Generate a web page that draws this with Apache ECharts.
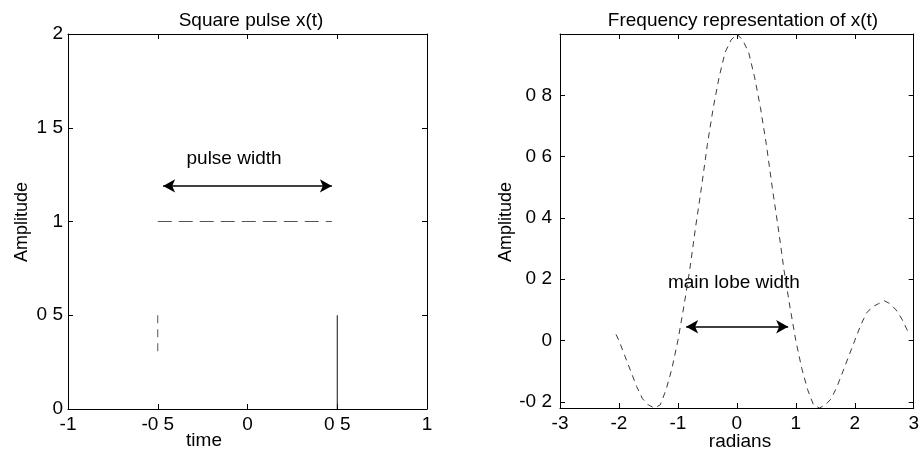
<!DOCTYPE html>
<html>
<head>
<meta charset="utf-8">
<script src="https://cdn.jsdelivr.net/npm/echarts@6/dist/echarts.min.js"></script>
<style>
html, body { margin: 0; background: #fff; }
#chart { width: 922px; height: 456px; }
</style>
</head>
<body>
<div id="chart"></div>
<script>
// left panel: square pulse (visible pieces of the scanned trace)
const pulseTop = [[-0.5, 1], [0.47, 1]]
const pulseLeftEdge = [[-0.5, 0.5], [-0.5, 0.28]]
const pulseRightEdge = [[0.5, 0.5], [0.5, 0]]
const pulseArrow = [[-0.47, 1.19], [0.47, 1.19]]
const pulseNote = [-0.075, 1.333]

// right panel: spectrum
const freqX = [-2.05, -2.0, -1.9, -1.8, -1.7, -1.6, -1.5, -1.4, -1.3, -1.2, -1.1,
  -1.0, -0.9, -0.8, -0.7, -0.6, -0.5, -0.4, -0.3, -0.2, -0.1, 0,
  0.1, 0.2, 0.3, 0.4, 0.5, 0.6, 0.7, 0.8, 0.9, 1.0,
  1.1, 1.2, 1.3, 1.4, 1.5, 1.6, 1.7, 1.8, 1.9, 2.0,
  2.1, 2.2, 2.3, 2.4, 2.5, 2.6, 2.7, 2.8, 2.9]
const freqY = [0.02, 0.0, -0.05, -0.10, -0.15, -0.19, -0.21, -0.22, -0.21, -0.16, -0.09,
  0.0, 0.11, 0.23, 0.37, 0.50, 0.64, 0.76, 0.86, 0.94, 0.98, 1.0,
  0.98, 0.94, 0.86, 0.76, 0.64, 0.50, 0.37, 0.23, 0.11, 0.0,
  -0.09, -0.16, -0.21, -0.22, -0.21, -0.19, -0.15, -0.10, -0.05, 0.0,
  0.05, 0.09, 0.11, 0.12, 0.13, 0.12, 0.10, 0.07, 0.03]
const lobeArrow = [[-0.86, 0.045], [0.87, 0.045]]
const lobeNote = [-0.05, 0.19]

const timeTicks = [-1, 1, 0.5]        // min, max, step
const ampTicks = [0, 2, 0.5]
const radTicks = [-3, 3, 1]
const specRange = [-0.22, 1]
const specTicks = [-0.2, 0, 0.2, 0.4, 0.6, 0.8]

const FONT = "'Liberation Sans', Arial, sans-serif"
const FS = 19

const chart = echarts.init(document.getElementById('chart'))

const fmt = v => String(Math.round(v * 10) / 10).replace('.', ' ')

function axisBase(extra) {
  return Object.assign({
    type: 'value',
    axisLine: { show: true, onZero: false, lineStyle: { color: '#000', width: 1 } },
    axisTick: { show: true, inside: true, length: 5, lineStyle: { color: '#000' } },
    splitLine: { show: false },
    axisLabel: { color: '#000', fontSize: FS, fontFamily: FONT, formatter: fmt }
  }, extra)
}
function mirror(ax, pos) {
  const m = JSON.parse(JSON.stringify(ax))
  m.position = pos
  m.axisLabel = { show: false }
  return m
}

const xTime = axisBase({ gridIndex: 0, min: timeTicks[0], max: timeTicks[1], interval: timeTicks[2], position: 'bottom' })
xTime.axisLabel.margin = 6
const yAmp = axisBase({ gridIndex: 0, min: ampTicks[0], max: ampTicks[1], interval: ampTicks[2], position: 'left' })
yAmp.axisLabel.margin = 5
const xRad = axisBase({ gridIndex: 1, min: radTicks[0], max: radTicks[1], interval: radTicks[2], position: 'bottom' })
xRad.axisLabel.margin = 6
const ySpec = axisBase({ gridIndex: 1, min: specRange[0], max: specRange[1], position: 'left' })
ySpec.axisTick.customValues = specTicks
ySpec.axisLabel.customValues = specTicks
ySpec.axisLabel.margin = 8

const traceStyle = { color: '#3a3a3a', width: 1, type: [6, 5] }
const arrowMark = (pts) => ({
  silent: true,
  symbol: ['arrow', 'arrow'],
  symbolSize: [10, 12],
  label: { show: false },
  lineStyle: { color: '#000', width: 1.5, type: 'solid' },
  data: [[{ coord: pts[0] }, { coord: pts[1] }]]
})

chart.setOption({
  animation: false,
  backgroundColor: '#fff',
  grid: [
    { left: 68, top: 34, width: 359, height: 375 },
    { left: 560, top: 34, width: 359, height: 374 }
  ],
  xAxis: [xTime, mirror(xTime, 'top'), xRad, mirror(xRad, 'top')],
  yAxis: [yAmp, mirror(yAmp, 'right'), ySpec, mirror(ySpec, 'right')],
  series: [
    { type: 'line', xAxisIndex: 0, yAxisIndex: 0, data: pulseTop, showSymbol: false,
      lineStyle: { color: '#555', width: 1, type: [14, 7] } },
    { type: 'line', xAxisIndex: 0, yAxisIndex: 0, data: pulseLeftEdge, showSymbol: false,
      lineStyle: { color: '#555', width: 1, type: [8, 6] } },
    { type: 'line', xAxisIndex: 0, yAxisIndex: 0, data: pulseRightEdge, showSymbol: false,
      lineStyle: { color: '#111', width: 1 } },
    { type: 'line', xAxisIndex: 0, yAxisIndex: 0, data: [], markLine: arrowMark(pulseArrow) },
    { type: 'line', xAxisIndex: 2, yAxisIndex: 2, showSymbol: false, clip: true,
      data: freqX.map((x, i) => [x, freqY[i]]), lineStyle: traceStyle },
    { type: 'line', xAxisIndex: 2, yAxisIndex: 2, data: [], markLine: arrowMark(lobeArrow) }
  ]
})

const txt = (text, x, y, rot, size) => ({
  type: 'text', x: x, y: y, rotation: rot || 0,
  style: { text: text, fill: '#000', font: (size || FS) + 'px ' + FONT, align: 'center', verticalAlign: 'middle' }
})
const p1 = chart.convertToPixel({ xAxisIndex: 0, yAxisIndex: 0 }, pulseNote)
const p2 = chart.convertToPixel({ xAxisIndex: 2, yAxisIndex: 2 }, lobeNote)

chart.setOption({
  graphic: [
    txt('Square pulse x(t)', 251, 21),
    txt('Frequency representation of x(t)', 743, 21),
    txt('Amplitude', 22, 222, Math.PI / 2, 18),
    txt('Amplitude', 506, 222, Math.PI / 2, 18),
    txt('time', 204, 441),
    txt('radians', 740, 442),
    txt('pulse width', p1[0], p1[1]),
    txt('main lobe width', p2[0], p2[1])
  ]
})
</script>
</body>
</html>
